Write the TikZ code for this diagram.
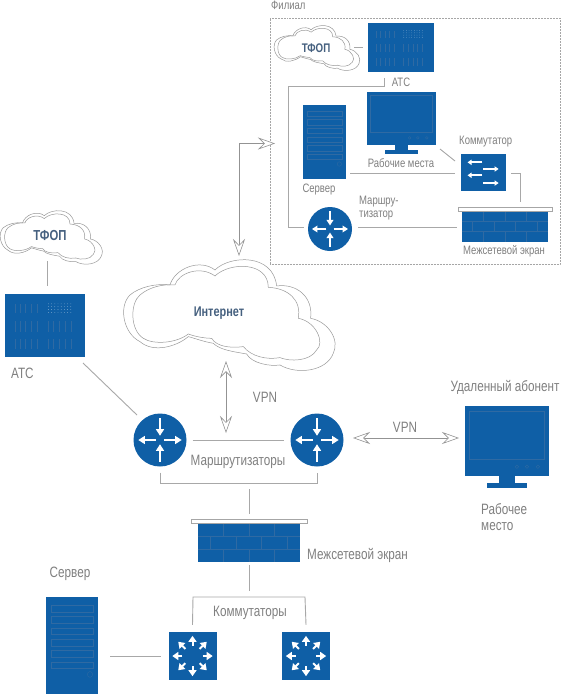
\documentclass[tikz,border=0pt]{standalone}
\usepackage{fontspec}
\setmainfont[FakeStretch=0.78]{Liberation Sans}
\usetikzlibrary{arrows.meta}
\definecolor{devblue}{HTML}{0F5FA6}
\definecolor{devline}{HTML}{2F6AA3}
\definecolor{txtgrey}{HTML}{808080}
\definecolor{linkgrey}{HTML}{A8A8A8}
\definecolor{cloudtxt}{HTML}{45607F}
\tikzset{
  link/.style={draw=linkgrey,line width=0.9pt},
  both/.style={draw=gray!85,line width=0.6pt,{Stealth[open,length=17pt,width=12pt,inset=6pt,fill=white]}-{Stealth[open,length=17pt,width=12pt,inset=6pt,fill=white]}},
  lbl/.style={text=txtgrey,font=\fontsize{15}{17}\selectfont,inner sep=0pt},
  smlbl/.style={text=txtgrey,font=\fontsize{12.2}{14}\selectfont,inner sep=0pt},
  devbox/.style={rectangle,fill=devblue,inner sep=0pt,draw=none},
  wht/.style={draw=white,line width=1.7pt,-{Triangle[length=4pt,width=5.2pt]}},
  whtbig/.style={draw=white,line width=2pt,-{Triangle[length=6pt,width=8pt]}},
  det/.style={draw=devline,line width=0.35pt},
}
% node-local unit coordinates
\newcommand\unitscope[3]{\begin{scope}[shift={(#1.north west)},x=#2pt,y=-#3pt]}
\newcommand\rtr[4]{%
  \node[circle,fill=devblue,inner sep=0pt,minimum size=#4pt] (#1) at (#2,#3) {};
  \pgfmathsetmacro\tipL{#4*.125}\pgfmathsetmacro\tipW{#4*.15}
  \begin{scope}[shift={(#1.center)},x=#4pt,y=-#4pt,
      rarrow/.style={draw=white,line width=1.9pt,-{Triangle[length=\tipL pt,width=\tipW pt]}}]
    \draw[rarrow] (0,-.41)--(0,-.08); \draw[rarrow] (0,.41)--(0,.08);
    \draw[rarrow] (-.08,0)--(-.41,0); \draw[rarrow] (.08,0)--(.41,0);
  \end{scope}}
\newcommand\atcbox[6]{%
  \node[devbox,minimum width=#4pt,minimum height=#5pt] (#1) at (#2,#3) {};
  \unitscope{#1}{#4}{#5}
    \foreach \yy/\hh in {.43/.17,.72/.16}{
      \foreach \xx in {.125,.19,.26,.33,.4,.54,.61,.68,.75,.83}{\draw[det] (\xx,\yy)--(\xx,\yy+\hh);}}
    \foreach \xx in {.125,.19,.26,.33,.4}{\draw[det] (\xx,.16)--(\xx,.3);}
    \foreach \xx in {0,...,7}{\foreach \yy in {0,...,3}{
      \fill[white!65!devblue] (.545+.04*\xx,.16+.045*\yy) circle (#6pt);}}
  \end{scope}}
\newcommand\srv[5]{%
  \node[devbox,minimum width=#4pt,minimum height=#5pt] (#1) at (#2,#3) {};
  \unitscope{#1}{#4}{#5}
    \foreach \yy in {.09,.2,.32,.44,.55,.67}{\draw[det] (.11,\yy) rectangle (.91,\yy+.07);}
    \draw[det] (.85,.8) circle (.05 and .03);
  \end{scope}}
\newcommand\mon[5]{%
  \node[devbox,minimum width=#4pt,minimum height=#5pt] (#1) at (#2,#3) {};
  \unitscope{#1}{#4}{#5}
    \fill[devblue] (.41,1)rectangle(.6,1.13);
    \fill[devblue] (.26,1.1)rectangle(.74,1.17);
    \draw[det] (.05,.07) rectangle (.95,.76);
    \foreach \xx in {.62,.74,.87}{\draw[det] (\xx,.87) circle (.02 and .025);}
  \end{scope}}
\newcommand\wall[6]{% name, x, y, w (bricks), h (bricks), cap overhang
  \node[devbox,minimum width=#4pt,minimum height=#5pt] (#1) at (#2,#3) {};
  \unitscope{#1}{#4}{#5}
    \foreach \yy in {.33,.67}{\draw[det] (0,\yy)--(1,\yy);}
    \foreach \xx in {.25,.5,.75}{\draw[det] (\xx,0)--(\xx,.33); \draw[det] (\xx,.67)--(\xx,1);}
    \foreach \xx in {.125,.375,.625,.875}{\draw[det] (\xx,.33)--(\xx,.67);}
  \end{scope}
  \draw[draw=gray!70,fill=white,line width=.6pt] ([xshift=-#6pt]#1.north west) rectangle ([xshift=#6pt,yshift=4pt]#1.north east);}
\newcommand\hub[4]{%
  \node[devbox,minimum size=#4pt] (#1) at (#2,#3) {};
  \begin{scope}[shift={(#1.center)},x=#4pt,y=-#4pt]
    \foreach \aa in {0,45,...,315}{\draw[whtbig] (\aa:.21)--(\aa:.42);}
  \end{scope}}
\newcommand\swbox[5]{%
  \node[devbox,minimum width=#4pt,minimum height=#5pt] (#1) at (#2,#3) {};
  \unitscope{#1}{#4}{#5}
    \draw[wht] (.48,.23)--(.15,.23); \draw[wht] (.5,.41)--(.84,.41);
    \draw[wht] (.48,.58)--(.15,.58); \draw[wht] (.5,.79)--(.84,.79);
  \end{scope}}
\newcommand\cloudshape[4]{%
  \coordinate (#1) at (#2,#3);
  \begin{scope}[shift={(#2,#3)},x=#4pt,y=-#4pt,shift={(-10,-385)},draw=gray!80,line width=.5pt]
    \draw (150,465) .. controls (165,415) and (240,385) .. (285,420)
      .. controls (330,375) and (460,370) .. (470,468)
      .. controls (530,460) and (580,500) .. (572,565)
      .. controls (625,575) and (660,630) .. (640,670)
      .. controls (620,725) and (530,735) .. (480,705)
      .. controls (450,710) and (395,700) .. (380,672)
      .. controls (340,665) and (300,660) .. (280,640)
      .. controls (250,635) and (225,625) .. (205,620)
      .. controls (170,650) and (100,670) .. (60,635)
      .. controls (10,610) and (-5,530) .. (30,495)
      .. controls (60,470) and (110,460) .. (150,465) -- cycle;
    \draw (165,465) .. controls (175,430) and (240,405) .. (285,438)
      .. controls (330,395) and (445,395) .. (445,472)
      .. controls (505,475) and (545,510) .. (535,565)
      .. controls (590,575) and (615,640) .. (590,660)
      .. controls (570,695) and (510,695) .. (480,683)
      .. controls (440,690) and (395,680) .. (370,650)
      .. controls (330,655) and (290,650) .. (275,625)
      .. controls (255,625) and (225,620) .. (205,612)
      .. controls (170,640) and (100,645) .. (70,625)
      .. controls (30,600) and (30,520) .. (60,495)
      .. controls (90,470) and (130,462) .. (165,465) -- cycle;
  \end{scope}}
\begin{document}
\begin{tikzpicture}[x=1pt,y=-1pt]
\useasboundingbox (0,0) rectangle (561,694);
\fill[white] (0,0) rectangle (561,694);

% ---- branch office
\node[draw=gray!70,densely dotted,line width=.5pt,inner sep=0pt,minimum width=290pt,minimum height=246pt] (branch) at (415,141) {};
\node[smlbl,anchor=west] (lfil) at (271,5) {Филиал};
\cloudshape{cloudB}{274}{25}{.135}
\node[text=cloudtxt,font=\fontsize{12.5}{14}\bfseries\selectfont,inner sep=0pt] (ltfopB) at (316,48) {ТФОП};
\atcbox{atcB}{401}{47.5}{66}{49}{.28}
\node[smlbl] (latcB) at (401,82) {АТС};
\srv{srvB}{324.5}{142}{43}{74}
\node[smlbl] (lsrvB) at (319,190) {Сервер};
\mon{monB}{401.5}{118.5}{69}{53}
\node[smlbl] (lmonB) at (401,163) {Рабочие места};
\swbox{swB}{483.5}{172.5}{45}{37}
\node[smlbl,anchor=west] (lswB) at (459,142) {Коммутатор};
\rtr{rB}{330}{229}{44}
\node[smlbl,anchor=west] (lrB1) at (359,202) {Маршру-};
\node[smlbl,anchor=west] (lrB2) at (359,215) {тизатор};
\wall{fwB}{505}{226.5}{86}{31}{4}
\node[smlbl] (lfwB) at (504,251) {Межсетевой экран};

\coordinate (cB) at (354,47);
\coordinate (cBe) at (363,47);
\draw[link] (cB) -- (cBe);
\coordinate (atcBs) at (384,78);
\coordinate (rBw) at (304,227);
\draw[link] (atcBs) -- (384,86) -| (288,227) -- (rBw);
\coordinate (rBe) at (358,227);
\coordinate (fwBw) at (457,227);
\draw[link] (rBe) -- (fwBw);
\coordinate (srvBe) at (350,173.5);
\coordinate (swBw) at (455,173.5);
\draw[link] (srvBe) -- (swBw);
\coordinate (mA) at (440,149); \coordinate (mB) at (455,161);
\draw[link] (mA) -- (mB);
\coordinate (swBe) at (511,173);
\coordinate (fwBt) at (520,202);
\draw[link] (swBe) -| (fwBt);

% ---- Internet
\cloudshape{cloudI}{123.3}{258.3}{.3333}
\node[text=cloudtxt,font=\fontsize{14}{16}\bfseries\selectfont,inner sep=0pt] (linet) at (219,313) {Интернет};
\coordinate (iTop) at (239,256);
\coordinate (iBranch) at (275,143.5);
\draw[both] (iTop) |- (iBranch);
\coordinate (iBot) at (226,361);
\coordinate (rTip) at (226,433);
\draw[both] (iBot) -- (rTip);
\node[lbl] (lvpn1) at (265,397) {VPN};

% ---- left PBX
\cloudshape{cloudL}{0}{210}{.161}
\node[text=cloudtxt,font=\fontsize{14.5}{16}\bfseries\selectfont,inner sep=0pt] (ltfopL) at (50,236) {ТФОП};
\atcbox{atcL}{45}{325.5}{80}{63}{.35}
\node[lbl,anchor=west] (latcL) at (11,373) {АТС};
\coordinate (tL) at (47,261); \coordinate (tL2) at (47,286);
\draw[link] (tL) -- (tL2);

% ---- routers
\rtr{r1}{160}{440}{53}
\rtr{r2}{317}{440}{53}
\coordinate (aA) at (83,363); \coordinate (aB) at (137,415);
\draw[link] (aA) -- (aB);
\draw[link,shorten <=6pt,shorten >=6pt] (r1) -- (r2);
\node[lbl] (lrouters) at (238,462) {Маршрутизаторы};
\draw[link] ([yshift=-6pt]r1.south) -- (160,483.5) -- (317,483.5) -- ([yshift=-6pt]r2.south);
\coordinate (bMid) at (249,489);
\wall{fw}{249}{542.5}{102}{39}{7}
\coordinate (fwT) at (249,514);
\draw[link] (bMid) -- (fwT);
\node[lbl,anchor=west] (lfw) at (307,555) {Межсетевой экран};

% ---- remote subscriber
\mon{monR}{507}{441}{84}{70}
\node[lbl] (lremote) at (505,387) {Удаленный абонент};
\node[lbl,anchor=west] (lw1) at (481,509) {Рабочее};
\node[lbl,anchor=west] (lw2) at (481,527) {место};
\coordinate (vA) at (353,438); \coordinate (vB) at (459,438);
\draw[both] (vA) -- (vB);
\node[lbl] (lvpn2) at (405,427) {VPN};

% ---- switches and server
\coordinate (fwS) at (249,565); \coordinate (brT) at (249,591);
\draw[link] (fwS) -- (brT);
\hub{sw1}{192.5}{656}{48}
\hub{sw2}{306}{656}{48}
\draw[link] ([yshift=7pt]sw1.north) -- (193,597) -- (305,597) -- ([yshift=7pt]sw2.north);
\node[lbl] (lsws) at (250,613) {Коммутаторы};
\srv{srvM}{72}{645.5}{52}{97}
\node[lbl] (lsrvM) at (70,574) {Сервер};
\coordinate (srvMe) at (110,656);
\draw[link] (srvMe) -- ([xshift=-7pt]sw1.west);
\end{tikzpicture}
\end{document}
